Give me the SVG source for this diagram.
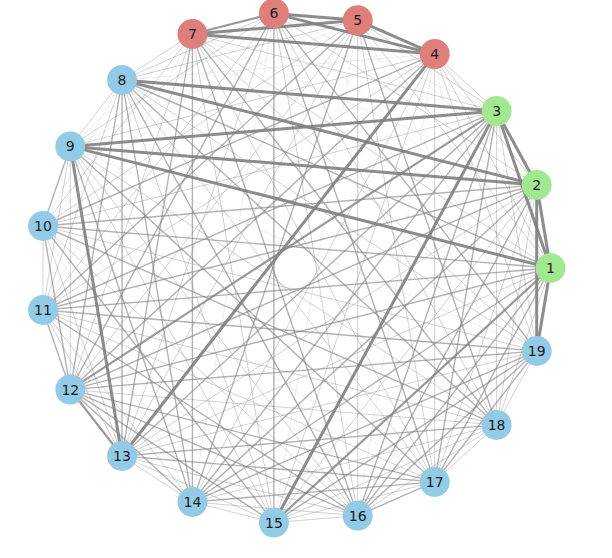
<svg xmlns="http://www.w3.org/2000/svg" width="612" height="558" viewBox="0 0 612 558">
<style>
line{stroke:#7f7f7f;stroke-linecap:butt}
.A{stroke-width:3;stroke-opacity:.9}
.B{stroke-width:2.2;stroke-opacity:.8}
.C{stroke-width:1.4;stroke-opacity:.6}
.D{stroke-width:1;stroke-opacity:.35}
.E{stroke-width:1;stroke-opacity:.13}
.n circle{stroke:none}
.r circle{fill:#df7f7c}
.g circle{fill:#a2e890}
.b circle{fill:#93cbe7}
text{font-family:"DejaVu Sans",sans-serif;font-size:14px;fill:#1c1c1c;text-anchor:middle;dominant-baseline:central}
</style>
<rect width="612" height="558" fill="#fff"/>
<g id="edges">
<line class="A" x1="550.5" y1="268" x2="536.7" y2="185"/>
<line class="A" x1="550.5" y1="268" x2="496.6" y2="111.1"/>
<line class="D" x1="550.5" y1="268" x2="434.7" y2="54.1"/>
<line class="D" x1="550.5" y1="268" x2="357.7" y2="20.3"/>
<line class="E" x1="550.5" y1="268" x2="273.9" y2="13.4"/>
<line class="D" x1="550.5" y1="268" x2="192.4" y2="34"/>
<line class="C" x1="550.5" y1="268" x2="122" y2="80"/>
<line class="A" x1="550.5" y1="268" x2="70.3" y2="146.4"/>
<line class="C" x1="550.5" y1="268" x2="43" y2="226"/>
<line class="C" x1="550.5" y1="268" x2="43" y2="310"/>
<line class="C" x1="550.5" y1="268" x2="70.3" y2="389.6"/>
<line class="D" x1="550.5" y1="268" x2="122" y2="456"/>
<line class="C" x1="550.5" y1="268" x2="192.4" y2="502"/>
<line class="B" x1="550.5" y1="268" x2="273.9" y2="522.6"/>
<line class="C" x1="550.5" y1="268" x2="357.7" y2="515.7"/>
<line class="C" x1="550.5" y1="268" x2="434.7" y2="481.9"/>
<line class="D" x1="550.5" y1="268" x2="496.6" y2="424.9"/>
<line class="A" x1="550.5" y1="268" x2="536.7" y2="351"/>
<line class="A" x1="536.7" y1="185" x2="496.6" y2="111.1"/>
<line class="D" x1="536.7" y1="185" x2="434.7" y2="54.1"/>
<line class="E" x1="536.7" y1="185" x2="357.7" y2="20.3"/>
<line class="D" x1="536.7" y1="185" x2="273.9" y2="13.4"/>
<line class="E" x1="536.7" y1="185" x2="192.4" y2="34"/>
<line class="A" x1="536.7" y1="185" x2="122" y2="80"/>
<line class="A" x1="536.7" y1="185" x2="70.3" y2="146.4"/>
<line class="C" x1="536.7" y1="185" x2="43" y2="226"/>
<line class="C" x1="536.7" y1="185" x2="43" y2="310"/>
<line class="C" x1="536.7" y1="185" x2="70.3" y2="389.6"/>
<line class="D" x1="536.7" y1="185" x2="122" y2="456"/>
<line class="C" x1="536.7" y1="185" x2="192.4" y2="502"/>
<line class="D" x1="536.7" y1="185" x2="273.9" y2="522.6"/>
<line class="C" x1="536.7" y1="185" x2="357.7" y2="515.7"/>
<line class="D" x1="536.7" y1="185" x2="434.7" y2="481.9"/>
<line class="D" x1="536.7" y1="185" x2="496.6" y2="424.9"/>
<line class="A" x1="536.7" y1="185" x2="536.7" y2="351"/>
<line class="D" x1="496.6" y1="111.1" x2="434.7" y2="54.1"/>
<line class="D" x1="496.6" y1="111.1" x2="357.7" y2="20.3"/>
<line class="E" x1="496.6" y1="111.1" x2="273.9" y2="13.4"/>
<line class="D" x1="496.6" y1="111.1" x2="192.4" y2="34"/>
<line class="A" x1="496.6" y1="111.1" x2="122" y2="80"/>
<line class="A" x1="496.6" y1="111.1" x2="70.3" y2="146.4"/>
<line class="D" x1="496.6" y1="111.1" x2="43" y2="226"/>
<line class="C" x1="496.6" y1="111.1" x2="43" y2="310"/>
<line class="B" x1="496.6" y1="111.1" x2="70.3" y2="389.6"/>
<line class="C" x1="496.6" y1="111.1" x2="122" y2="456"/>
<line class="C" x1="496.6" y1="111.1" x2="192.4" y2="502"/>
<line class="A" x1="496.6" y1="111.1" x2="273.9" y2="522.6"/>
<line class="C" x1="496.6" y1="111.1" x2="357.7" y2="515.7"/>
<line class="C" x1="496.6" y1="111.1" x2="434.7" y2="481.9"/>
<line class="D" x1="496.6" y1="111.1" x2="496.6" y2="424.9"/>
<line class="D" x1="496.6" y1="111.1" x2="536.7" y2="351"/>
<line class="A" x1="434.7" y1="54.1" x2="357.7" y2="20.3"/>
<line class="A" x1="434.7" y1="54.1" x2="273.9" y2="13.4"/>
<line class="A" x1="434.7" y1="54.1" x2="192.4" y2="34"/>
<line class="E" x1="434.7" y1="54.1" x2="122" y2="80"/>
<line class="D" x1="434.7" y1="54.1" x2="70.3" y2="146.4"/>
<line class="C" x1="434.7" y1="54.1" x2="43" y2="226"/>
<line class="D" x1="434.7" y1="54.1" x2="43" y2="310"/>
<line class="C" x1="434.7" y1="54.1" x2="70.3" y2="389.6"/>
<line class="A" x1="434.7" y1="54.1" x2="122" y2="456"/>
<line class="D" x1="434.7" y1="54.1" x2="192.4" y2="502"/>
<line class="D" x1="434.7" y1="54.1" x2="273.9" y2="522.6"/>
<line class="E" x1="434.7" y1="54.1" x2="357.7" y2="515.7"/>
<line class="D" x1="434.7" y1="54.1" x2="434.7" y2="481.9"/>
<line class="E" x1="434.7" y1="54.1" x2="496.6" y2="424.9"/>
<line class="D" x1="434.7" y1="54.1" x2="536.7" y2="351"/>
<line class="A" x1="357.7" y1="20.3" x2="273.9" y2="13.4"/>
<line class="A" x1="357.7" y1="20.3" x2="192.4" y2="34"/>
<line class="D" x1="357.7" y1="20.3" x2="122" y2="80"/>
<line class="E" x1="357.7" y1="20.3" x2="70.3" y2="146.4"/>
<line class="D" x1="357.7" y1="20.3" x2="43" y2="226"/>
<line class="C" x1="357.7" y1="20.3" x2="43" y2="310"/>
<line class="D" x1="357.7" y1="20.3" x2="70.3" y2="389.6"/>
<line class="D" x1="357.7" y1="20.3" x2="122" y2="456"/>
<line class="C" x1="357.7" y1="20.3" x2="192.4" y2="502"/>
<line class="E" x1="357.7" y1="20.3" x2="273.9" y2="522.6"/>
<line class="D" x1="357.7" y1="20.3" x2="357.7" y2="515.7"/>
<line class="D" x1="357.7" y1="20.3" x2="434.7" y2="481.9"/>
<line class="C" x1="357.7" y1="20.3" x2="496.6" y2="424.9"/>
<line class="E" x1="357.7" y1="20.3" x2="536.7" y2="351"/>
<line class="B" x1="273.9" y1="13.4" x2="192.4" y2="34"/>
<line class="D" x1="273.9" y1="13.4" x2="122" y2="80"/>
<line class="D" x1="273.9" y1="13.4" x2="70.3" y2="146.4"/>
<line class="E" x1="273.9" y1="13.4" x2="43" y2="226"/>
<line class="D" x1="273.9" y1="13.4" x2="43" y2="310"/>
<line class="C" x1="273.9" y1="13.4" x2="70.3" y2="389.6"/>
<line class="D" x1="273.9" y1="13.4" x2="122" y2="456"/>
<line class="E" x1="273.9" y1="13.4" x2="192.4" y2="502"/>
<line class="C" x1="273.9" y1="13.4" x2="273.9" y2="522.6"/>
<line class="D" x1="273.9" y1="13.4" x2="357.7" y2="515.7"/>
<line class="C" x1="273.9" y1="13.4" x2="434.7" y2="481.9"/>
<line class="D" x1="273.9" y1="13.4" x2="496.6" y2="424.9"/>
<line class="C" x1="273.9" y1="13.4" x2="536.7" y2="351"/>
<line class="D" x1="192.4" y1="34" x2="122" y2="80"/>
<line class="E" x1="192.4" y1="34" x2="70.3" y2="146.4"/>
<line class="D" x1="192.4" y1="34" x2="43" y2="226"/>
<line class="E" x1="192.4" y1="34" x2="43" y2="310"/>
<line class="D" x1="192.4" y1="34" x2="70.3" y2="389.6"/>
<line class="C" x1="192.4" y1="34" x2="122" y2="456"/>
<line class="C" x1="192.4" y1="34" x2="192.4" y2="502"/>
<line class="D" x1="192.4" y1="34" x2="273.9" y2="522.6"/>
<line class="C" x1="192.4" y1="34" x2="357.7" y2="515.7"/>
<line class="D" x1="192.4" y1="34" x2="434.7" y2="481.9"/>
<line class="C" x1="192.4" y1="34" x2="496.6" y2="424.9"/>
<line class="D" x1="192.4" y1="34" x2="536.7" y2="351"/>
<line class="D" x1="122" y1="80" x2="70.3" y2="146.4"/>
<line class="E" x1="122" y1="80" x2="43" y2="226"/>
<line class="D" x1="122" y1="80" x2="43" y2="310"/>
<line class="C" x1="122" y1="80" x2="70.3" y2="389.6"/>
<line class="C" x1="122" y1="80" x2="122" y2="456"/>
<line class="C" x1="122" y1="80" x2="192.4" y2="502"/>
<line class="D" x1="122" y1="80" x2="273.9" y2="522.6"/>
<line class="C" x1="122" y1="80" x2="357.7" y2="515.7"/>
<line class="D" x1="122" y1="80" x2="434.7" y2="481.9"/>
<line class="C" x1="122" y1="80" x2="496.6" y2="424.9"/>
<line class="D" x1="122" y1="80" x2="536.7" y2="351"/>
<line class="C" x1="70.3" y1="146.4" x2="43" y2="226"/>
<line class="D" x1="70.3" y1="146.4" x2="43" y2="310"/>
<line class="D" x1="70.3" y1="146.4" x2="70.3" y2="389.6"/>
<line class="A" x1="70.3" y1="146.4" x2="122" y2="456"/>
<line class="C" x1="70.3" y1="146.4" x2="192.4" y2="502"/>
<line class="D" x1="70.3" y1="146.4" x2="273.9" y2="522.6"/>
<line class="D" x1="70.3" y1="146.4" x2="357.7" y2="515.7"/>
<line class="C" x1="70.3" y1="146.4" x2="434.7" y2="481.9"/>
<line class="D" x1="70.3" y1="146.4" x2="496.6" y2="424.9"/>
<line class="E" x1="70.3" y1="146.4" x2="536.7" y2="351"/>
<line class="D" x1="43" y1="226" x2="43" y2="310"/>
<line class="C" x1="43" y1="226" x2="70.3" y2="389.6"/>
<line class="D" x1="43" y1="226" x2="122" y2="456"/>
<line class="E" x1="43" y1="226" x2="192.4" y2="502"/>
<line class="C" x1="43" y1="226" x2="273.9" y2="522.6"/>
<line class="D" x1="43" y1="226" x2="357.7" y2="515.7"/>
<line class="E" x1="43" y1="226" x2="434.7" y2="481.9"/>
<line class="C" x1="43" y1="226" x2="496.6" y2="424.9"/>
<line class="D" x1="43" y1="226" x2="536.7" y2="351"/>
<line class="C" x1="43" y1="310" x2="70.3" y2="389.6"/>
<line class="D" x1="43" y1="310" x2="122" y2="456"/>
<line class="D" x1="43" y1="310" x2="192.4" y2="502"/>
<line class="E" x1="43" y1="310" x2="273.9" y2="522.6"/>
<line class="C" x1="43" y1="310" x2="357.7" y2="515.7"/>
<line class="D" x1="43" y1="310" x2="434.7" y2="481.9"/>
<line class="D" x1="43" y1="310" x2="496.6" y2="424.9"/>
<line class="C" x1="43" y1="310" x2="536.7" y2="351"/>
<line class="B" x1="70.3" y1="389.6" x2="122" y2="456"/>
<line class="C" x1="70.3" y1="389.6" x2="192.4" y2="502"/>
<line class="C" x1="70.3" y1="389.6" x2="273.9" y2="522.6"/>
<line class="C" x1="70.3" y1="389.6" x2="357.7" y2="515.7"/>
<line class="C" x1="70.3" y1="389.6" x2="434.7" y2="481.9"/>
<line class="D" x1="70.3" y1="389.6" x2="496.6" y2="424.9"/>
<line class="C" x1="70.3" y1="389.6" x2="536.7" y2="351"/>
<line class="D" x1="122" y1="456" x2="192.4" y2="502"/>
<line class="D" x1="122" y1="456" x2="273.9" y2="522.6"/>
<line class="D" x1="122" y1="456" x2="357.7" y2="515.7"/>
<line class="C" x1="122" y1="456" x2="434.7" y2="481.9"/>
<line class="C" x1="122" y1="456" x2="496.6" y2="424.9"/>
<line class="D" x1="122" y1="456" x2="536.7" y2="351"/>
<line class="D" x1="192.4" y1="502" x2="273.9" y2="522.6"/>
<line class="D" x1="192.4" y1="502" x2="357.7" y2="515.7"/>
<line class="C" x1="192.4" y1="502" x2="434.7" y2="481.9"/>
<line class="D" x1="192.4" y1="502" x2="496.6" y2="424.9"/>
<line class="C" x1="192.4" y1="502" x2="536.7" y2="351"/>
<line class="D" x1="273.9" y1="522.6" x2="357.7" y2="515.7"/>
<line class="D" x1="273.9" y1="522.6" x2="434.7" y2="481.9"/>
<line class="D" x1="273.9" y1="522.6" x2="496.6" y2="424.9"/>
<line class="C" x1="273.9" y1="522.6" x2="536.7" y2="351"/>
<line class="C" x1="357.7" y1="515.7" x2="434.7" y2="481.9"/>
<line class="D" x1="357.7" y1="515.7" x2="496.6" y2="424.9"/>
<line class="C" x1="357.7" y1="515.7" x2="536.7" y2="351"/>
<line class="D" x1="434.7" y1="481.9" x2="496.6" y2="424.9"/>
<line class="C" x1="434.7" y1="481.9" x2="536.7" y2="351"/>
<line class="D" x1="496.6" y1="424.9" x2="536.7" y2="351"/>
</g>
<g id="node1" class="n g"><circle cx="550.5" cy="268" r="15"/><text x="550.5" y="268">1</text></g>
<g id="node2" class="n g"><circle cx="536.7" cy="185" r="15"/><text x="536.7" y="185">2</text></g>
<g id="node3" class="n g"><circle cx="496.6" cy="111.1" r="15"/><text x="496.6" y="111.1">3</text></g>
<g id="node4" class="n r"><circle cx="434.7" cy="54.1" r="15"/><text x="434.7" y="54.1">4</text></g>
<g id="node5" class="n r"><circle cx="357.7" cy="20.3" r="15"/><text x="357.7" y="20.3">5</text></g>
<g id="node6" class="n r"><circle cx="273.9" cy="13.4" r="15"/><text x="273.9" y="13.4">6</text></g>
<g id="node7" class="n r"><circle cx="192.4" cy="34" r="15"/><text x="192.4" y="34">7</text></g>
<g id="node8" class="n b"><circle cx="122" cy="80" r="15"/><text x="122" y="80">8</text></g>
<g id="node9" class="n b"><circle cx="70.3" cy="146.4" r="15"/><text x="70.3" y="146.4">9</text></g>
<g id="node10" class="n b"><circle cx="43" cy="226" r="15"/><text x="43" y="226">10</text></g>
<g id="node11" class="n b"><circle cx="43" cy="310" r="15"/><text x="43" y="310">11</text></g>
<g id="node12" class="n b"><circle cx="70.3" cy="389.6" r="15"/><text x="70.3" y="389.6">12</text></g>
<g id="node13" class="n b"><circle cx="122" cy="456" r="15"/><text x="122" y="456">13</text></g>
<g id="node14" class="n b"><circle cx="192.4" cy="502" r="15"/><text x="192.4" y="502">14</text></g>
<g id="node15" class="n b"><circle cx="273.9" cy="522.6" r="15"/><text x="273.9" y="522.6">15</text></g>
<g id="node16" class="n b"><circle cx="357.7" cy="515.7" r="15"/><text x="357.7" y="515.7">16</text></g>
<g id="node17" class="n b"><circle cx="434.7" cy="481.9" r="15"/><text x="434.7" y="481.9">17</text></g>
<g id="node18" class="n b"><circle cx="496.6" cy="424.9" r="15"/><text x="496.6" y="424.9">18</text></g>
<g id="node19" class="n b"><circle cx="536.7" cy="351" r="15"/><text x="536.7" y="351">19</text></g>
</svg>
